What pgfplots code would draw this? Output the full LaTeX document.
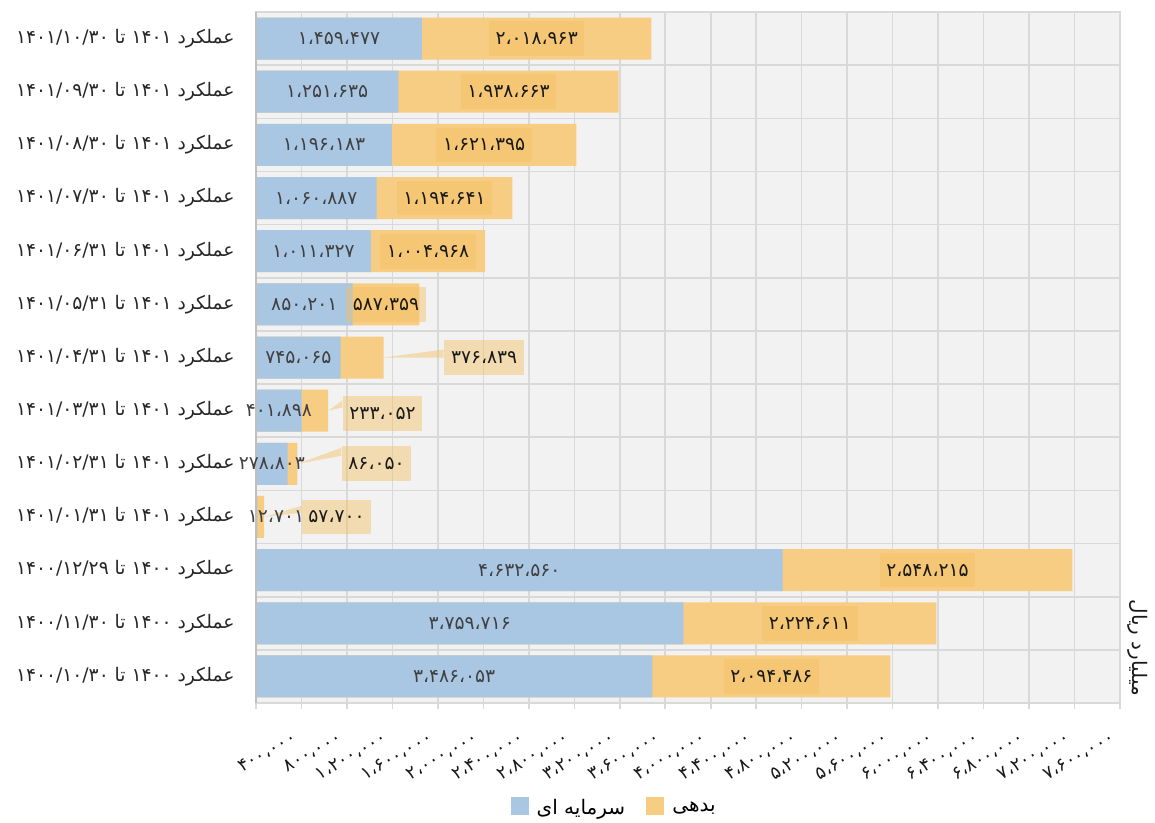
\documentclass[border=0pt]{standalone}
\usepackage{fontspec}
\usepackage{pgfplots}
\usepackage{pgfplotstable}
\pgfplotsset{compat=1.18}
\usetikzlibrary{calc}
\setmainfont{DejaVu Sans}
\newfontfamily\arabicfont[Script=Arabic]{DejaVu Sans}
\TeXXeTstate=1
\newcommand{\fa}[1]{{\arabicfont\beginR #1\endR}}

\definecolor{cblue}{HTML}{A9C6E3}
\definecolor{corange}{HTML}{F7CC83}
\definecolor{plotbg}{HTML}{F2F2F2}
\definecolor{gridc}{HTML}{D9D9D9}
\definecolor{axisc}{HTML}{BFBFBF}
\definecolor{callc}{HTML}{F4C060}
\definecolor{txtc}{HTML}{404040}

% y: 12 = top row; every label cell is a single number
\pgfplotstableread{
y blue orange bl ol
12 1459477 2018963 ۱،۴۵۹،۴۷۷ ۲،۰۱۸،۹۶۳
11 1251635 1938663 ۱،۲۵۱،۶۳۵ ۱،۹۳۸،۶۶۳
10 1196183 1621395 ۱،۱۹۶،۱۸۳ ۱،۶۲۱،۳۹۵
9 1060887 1194641 ۱،۰۶۰،۸۸۷ ۱،۱۹۴،۶۴۱
8 1011327 1004968 ۱،۰۱۱،۳۲۷ ۱،۰۰۴،۹۶۸
7 850201 587359 ۸۵۰،۲۰۱ ۵۸۷،۳۵۹
6 745065 376839 ۷۴۵،۰۶۵ ۳۷۶،۸۳۹
5 401898 233052 ۴۰۱،۸۹۸ ۲۳۳،۰۵۲
4 278803 86050 ۲۷۸،۸۰۳ ۸۶،۰۵۰
3 12701 57700 ۱۲،۷۰۱ ۵۷،۷۰۰
2 4632560 2548215 ۴،۶۳۲،۵۶۰ ۲،۵۴۸،۲۱۵
1 3759716 2224611 ۳،۷۵۹،۷۱۶ ۲،۲۲۴،۶۱۱
0 3486053 2094486 ۳،۴۸۶،۰۵۳ ۲،۰۹۴،۴۸۶
}\data

% labels moved out of the short bars
\pgfplotstableread{
x y lab
2006400 6.0 ۳۷۶،۸۳۹
1113200 4.95 ۲۳۳،۰۵۲
1060400 4.0 ۸۶،۰۵۰
708400 3.0 ۵۷،۷۰۰
}\callouts

\begin{document}
\begin{tikzpicture}
\begin{axis}[
    scale only axis,
    width=648pt, height=518.25pt,
    xmin=0, xmax=7600000, ymin=-0.5, ymax=12.5,
    clip=false,
    axis background/.style={fill=plotbg},
    axis line style={draw=gridc, line width=1.2pt},
    xtick={0,400000,800000,1200000,1600000,2000000,2400000,2800000,3200000,3600000,4000000,4400000,4800000,5200000,5600000,6000000,6400000,6800000,7200000,7600000},
    xticklabels={{},۴۰۰،۰۰۰,۸۰۰،۰۰۰,۱،۲۰۰،۰۰۰,۱،۶۰۰،۰۰۰,۲،۰۰۰،۰۰۰,۲،۴۰۰،۰۰۰,۲،۸۰۰،۰۰۰,۳،۲۰۰،۰۰۰,۳،۶۰۰،۰۰۰,۴،۰۰۰،۰۰۰,۴،۴۰۰،۰۰۰,۴،۸۰۰،۰۰۰,۵،۲۰۰،۰۰۰,۵،۶۰۰،۰۰۰,۶،۰۰۰،۰۰۰,۶،۴۰۰،۰۰۰,۶،۸۰۰،۰۰۰,۷،۲۰۰،۰۰۰,۷،۶۰۰،۰۰۰},
    scaled x ticks=false,
    xtick pos=bottom,
    tick align=outside,
    major tick length=4.5pt,
    minor tick length=0pt,
    xtick style={draw=gridc, line width=1.2pt},
    ytick style={draw=none},
    xmajorgrids,
    grid style={draw=gridc, line width=1.2pt},
    ytick={0,...,12},
    yticklabels={
      \fa{عملکرد ۱۴۰۰ تا ۱۴۰۰/۱۰/۳۰},
      \fa{عملکرد ۱۴۰۰ تا ۱۴۰۰/۱۱/۳۰},
      \fa{عملکرد ۱۴۰۰ تا ۱۴۰۰/۱۲/۲۹},
      \fa{عملکرد ۱۴۰۱ تا ۱۴۰۱/۰۱/۳۱},
      \fa{عملکرد ۱۴۰۱ تا ۱۴۰۱/۰۲/۳۱},
      \fa{عملکرد ۱۴۰۱ تا ۱۴۰۱/۰۳/۳۱},
      \fa{عملکرد ۱۴۰۱ تا ۱۴۰۱/۰۴/۳۱},
      \fa{عملکرد ۱۴۰۱ تا ۱۴۰۱/۰۵/۳۱},
      \fa{عملکرد ۱۴۰۱ تا ۱۴۰۱/۰۶/۳۱},
      \fa{عملکرد ۱۴۰۱ تا ۱۴۰۱/۰۷/۳۰},
      \fa{عملکرد ۱۴۰۱ تا ۱۴۰۱/۰۸/۳۰},
      \fa{عملکرد ۱۴۰۱ تا ۱۴۰۱/۰۹/۳۰},
      \fa{عملکرد ۱۴۰۱ تا ۱۴۰۱/۱۰/۳۰}},
    minor ytick={-0.5,0.5,...,12.5},
    yminorgrids,
    minor grid style={draw=gridc, line width=1.2pt},
    xticklabel style={font=\arabicfont\fontsize{13.5}{15}\selectfont, text=black!90, rotate=30, anchor=north east, yshift=-7pt, xshift=-11pt},
    yticklabel style={font=\fontsize{14}{16}\selectfont, text=black!85, xshift=-8pt},
    legend style={at={(axis description cs:0.415,-0.152)}, anchor=center, draw=none, fill=none,
      legend columns=2, font=\fontsize{15}{17}\selectfont,
      /tikz/every odd column/.append style={column sep=4pt},
      /tikz/every even column/.append style={column sep=14pt}},
    legend image code/.code={\fill[#1] (0pt,-5.5pt) rectangle (13.5pt,8pt);},
]
\addlegendimage{fill=cblue, draw=none}
\addlegendentry{\fa{سرمایه ای}}
\addlegendimage{fill=corange, draw=none}
\addlegendentry{\fa{بدهی}}

% bars: total (orange) under, capital (blue) over
\addplot[xbar, bar width=0.79, bar shift=0pt, fill=corange, draw=none, forget plot]
  table[x expr=\thisrow{blue}+\thisrow{orange}, y=y] {\data};
\addplot[xbar, bar width=0.79, bar shift=0pt, fill=cblue, draw=none, forget plot]
  table[x=blue, y=y] {\data};

% callout leaders
\addplot[fill=callc, fill opacity=0.45, draw=none, forget plot] coordinates {(1121904,6.0) (1650000,6.0) (1650000,6.15)};
\addplot[fill=callc, fill opacity=0.45, draw=none, forget plot] coordinates {(634950,5.0) (760000,5.06) (760000,5.19)};
\addplot[fill=callc, fill opacity=0.45, draw=none, forget plot] coordinates {(364853,4.0) (750000,4.15) (750000,4.3)};
\addplot[fill=callc, fill opacity=0.45, draw=none, forget plot] coordinates {(70401,3.0) (400000,3.08) (400000,3.21)};

\draw[axisc, line width=1.2pt] (axis cs:0,-0.5) -- (axis cs:0,12.5);

% blue value labels
\addplot[draw=none, mark=none, forget plot, skip coords between index={9}{10},
  nodes near coords={\pgfplotspointmeta}, point meta=explicit symbolic,
  every node near coord/.append style={anchor=center, font=\arabicfont\fontsize{14}{16}\selectfont, text=txtc}]
  table[x expr=\thisrow{blue}/2, y=y, meta=bl] {\data};
\addplot[draw=none, mark=none, forget plot,
  nodes near coords={\pgfplotspointmeta}, point meta=explicit symbolic,
  every node near coord/.append style={anchor=center, font=\arabicfont\fontsize{14}{16}\selectfont, text=txtc}]
  coordinates {(176000,3) [۱۲،۷۰۱]};

% orange value labels
\addplot[draw=none, mark=none, forget plot, skip coords between index={6}{10},
  nodes near coords={\pgfplotspointmeta}, point meta=explicit symbolic,
  every node near coord/.append style={anchor=center, font=\arabicfont\fontsize{14}{16}\selectfont, text=black!90,
    fill=callc, fill opacity=0.45, text opacity=1, inner xsep=5pt, minimum height=26pt}]
  table[x expr=\thisrow{blue}+\thisrow{orange}/2, y=y, meta=ol] {\data};
\addplot[draw=none, mark=none, forget plot,
  nodes near coords={\pgfplotspointmeta}, point meta=explicit symbolic,
  every node near coord/.append style={anchor=center, font=\arabicfont\fontsize{14}{16}\selectfont, text=black!90,
    fill=callc, fill opacity=0.45, text opacity=1, inner xsep=5pt, minimum height=26pt}]
  table[x=x, y=y, meta=lab] {\callouts};

\node[rotate=-90, font=\fontsize{15}{17}\selectfont, text=black!90] at (axis description cs:1.021,0.08) {\fa{میلیارد ریال}};

\coordinate (bl) at (axis cs:0,-0.5);
\coordinate (tr) at (axis cs:7600000,12.5);
\end{axis}
\pgfresetboundingbox
\path[use as bounding box] ($(bl)+(-192pt,-89.25pt)$) rectangle ($(tr)+(26.25pt,9pt)$);
\end{tikzpicture}
\end{document}
